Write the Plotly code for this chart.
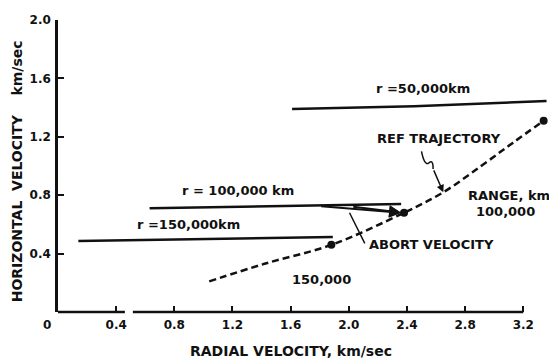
import plotly.graph_objects as go

# Radial / horizontal velocity values (km/sec)
r50_x = [1.61, 2.45, 3.36]
r50_y = [1.39, 1.41, 1.445]
r100_x = [0.63, 2.36]
r100_y = [0.71, 0.74]
r150_x = [0.14, 1.89]
r150_y = [0.486, 0.514]

traj_x = [1.04, 1.42, 1.88, 2.38, 2.65, 2.91, 3.13, 3.34]
traj_y = [0.21, 0.33, 0.46, 0.68, 0.82, 1.00, 1.16, 1.31]

range_pts_x = [1.88, 2.38, 3.34]
range_pts_y = [0.46, 0.68, 1.31]

x_ticks = [0.4, 0.8, 1.2, 1.6, 2.0, 2.4, 2.8, 3.2]
x_tick_text = ["0.4", "0.8", "1.2", "1.6", "2.0", "2.4", "2.8", "3.2"]
y_ticks = [0.4, 0.8, 1.2, 1.6, 2.0]
y_tick_text = ["0.4", "0.8", "1.2", "1.6", "2.0"]

INK = "#111111"
FONT = dict(family="DejaVu Sans", size=13, color=INK, weight="bold")
TICK_FONT = dict(family="DejaVu Sans", size=12, color=INK, weight="bold")
TITLE_FONT = dict(family="DejaVu Sans", size=14, color=INK, weight="bold")

fig = go.Figure()

for xs, ys in [(r50_x, r50_y), (r100_x, r100_y), (r150_x, r150_y)]:
    fig.add_trace(go.Scatter(x=xs, y=ys, mode="lines",
                             line=dict(color=INK, width=2.5),
                             hoverinfo="skip", showlegend=False))

fig.add_trace(go.Scatter(x=traj_x, y=traj_y, mode="lines",
                         line=dict(color=INK, width=2.5, dash="7px,4px", shape="spline"),
                         hoverinfo="skip", showlegend=False))
fig.add_trace(go.Scatter(x=range_pts_x, y=range_pts_y, mode="markers",
                         marker=dict(color=INK, size=8),
                         hoverinfo="skip", showlegend=False))

annotations = [
    dict(x=2.51, y=1.53, text="r =50,000km"),
    dict(x=2.62, y=1.19, text="REF TRAJECTORY"),
    dict(x=3.10, y=0.80, text="RANGE, km"),
    dict(x=3.08, y=0.69, text="100,000"),
    dict(x=1.24, y=0.835, text="r = 100,000 km"),
    dict(x=0.90, y=0.596, text="r =150,000km"),
    dict(x=2.57, y=0.46, text="ABORT VELOCITY"),
    dict(x=1.81, y=0.226, text="150,000"),
]
anns = []
for a in annotations:
    anns.append(dict(x=a["x"], y=a["y"], xref="x", yref="y", text=a["text"],
                     showarrow=False, font=FONT, xanchor="center", yanchor="middle"))

# abort velocity arrows from the r = 100,000 km line to the trajectory
for tail_x, tail_y in [(1.80, 0.725), (2.02, 0.722)]:
    anns.append(dict(x=2.36, y=0.68, ax=tail_x, ay=tail_y, xref="x", yref="y",
                     axref="x", ayref="y", text="", showarrow=True,
                     arrowhead=2, arrowsize=1.2, arrowwidth=2, arrowcolor=INK))

# pointer from REF TRAJECTORY label to the curve
anns.append(dict(x=2.65, y=0.82, ax=2.58, ay=0.98, xref="x", yref="y",
                 axref="x", ayref="y", text="", showarrow=True,
                 arrowhead=2, arrowsize=1, arrowwidth=1.5, arrowcolor=INK))

# axis titles and the origin label
anns.append(dict(x=0.475, y=-0.132, xref="paper", yref="paper",
                 text="RADIAL VELOCITY, km/sec", showarrow=False, font=TITLE_FONT,
                 xanchor="center", yanchor="middle"))
anns.append(dict(x=-0.083, y=0.483, xref="paper", yref="paper",
                 text="HORIZONTAL  VELOCITY    km/sec", showarrow=False,
                 font=TITLE_FONT, textangle=-90, xanchor="center", yanchor="middle"))
anns.append(dict(x=-0.022, y=-0.045, xref="paper", yref="paper", text="0",
                 showarrow=False, font=TICK_FONT, xanchor="center", yanchor="middle"))

shapes = [
    # x axis line (broken near 0.5)
    dict(type="line", xref="x", yref="paper", x0=0, x1=0.46, y0=0, y1=0,
         line=dict(color=INK, width=2.5)),
    dict(type="line", xref="x", yref="paper", x0=0.515, x1=3.2, y0=0, y1=0,
         line=dict(color=INK, width=2.5)),
    # pointer line for ABORT VELOCITY
    dict(type="line", xref="x", yref="y", x0=2.005, y0=0.68, x1=2.11, y1=0.47,
         line=dict(color=INK, width=1.5)),
    # squiggle under REF TRAJECTORY
    dict(type="path", xref="x", yref="y",
         path="M 2.50,1.10 Q 2.52,1.00 2.55,1.02 Q 2.58,1.05 2.58,0.98",
         line=dict(color=INK, width=1.5)),
]

fig.update_layout(
    width=549, height=360,
    margin=dict(l=58, r=1, t=20, b=48),
    paper_bgcolor="white", plot_bgcolor="white",
    font=FONT,
    annotations=anns, shapes=shapes,
    xaxis=dict(range=[0, 3.37], showgrid=False, zeroline=False, showline=False,
               tickvals=x_ticks, ticktext=x_tick_text, ticks="inside",
               ticklen=6, tickwidth=2, tickcolor=INK, tickfont=TICK_FONT,
               ticklabelstandoff=4),
    yaxis=dict(range=[0, 2.0], showgrid=False, zeroline=False, showline=True,
               linecolor=INK, linewidth=2.5,
               tickvals=y_ticks, ticktext=y_tick_text, ticks="inside",
               ticklen=6, tickwidth=2, tickcolor=INK, tickfont=TICK_FONT,
               ticklabelstandoff=2),
)

fig.write_html("out.html")
